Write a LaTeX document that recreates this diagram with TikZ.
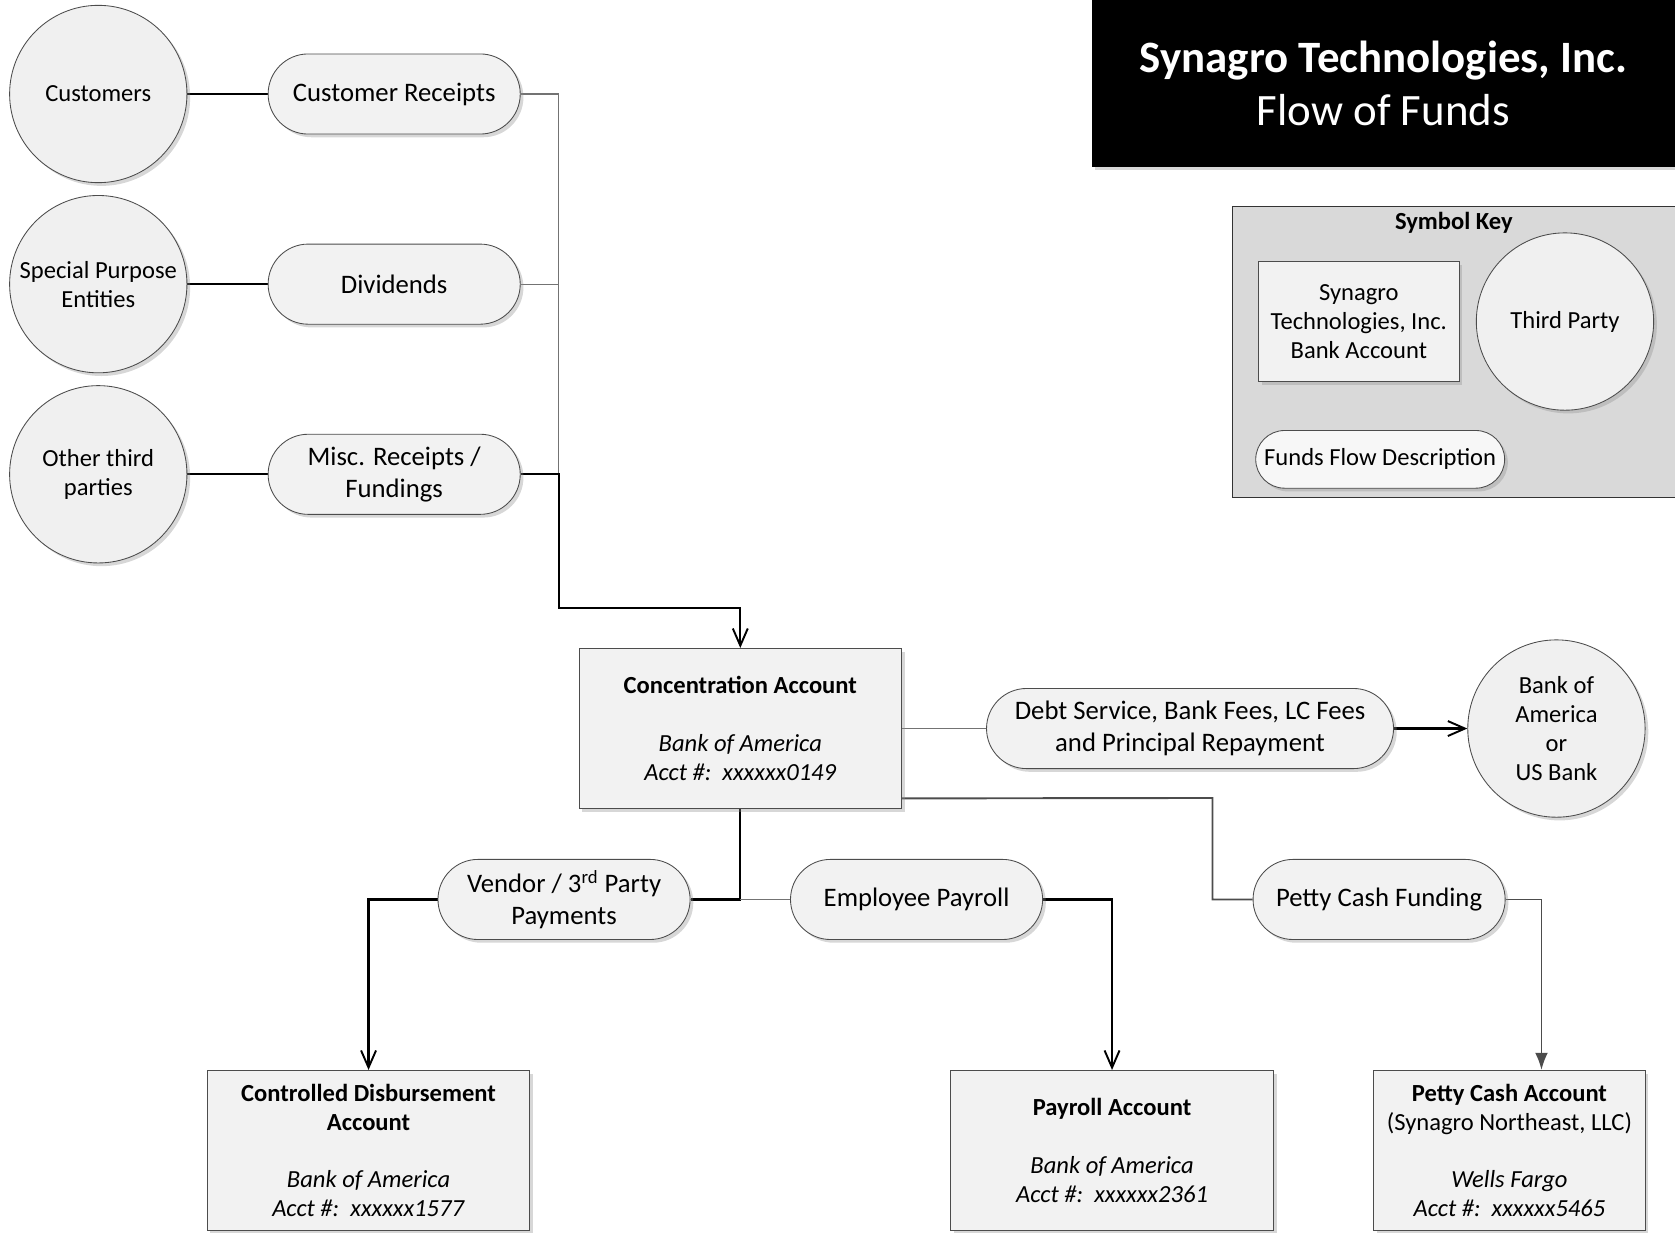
\documentclass[tikz,border=0pt]{standalone}
\usepackage{fontspec}
\setmainfont{Carlito}
\usepackage{tikz}
\usetikzlibrary{arrows.meta,shadows,calc,backgrounds}
\tikzstyle{flow}=[
  x=0.5pt,y=-0.5pt,>={Straight Barb[length=8pt,width=7pt,line width=0.9pt]}
]
\tikzstyle{shade}=[
  drop shadow={shadow xshift=1.5pt,shadow yshift=-1.5pt,fill=black!45,opacity=0.35}
]
\tikzstyle{party}=[
  draw=black!70,circle,fill=black!6,minimum size=83pt,inner sep=0pt,align=center,
  font=\fontsize{11.5}{13.5}\selectfont,shade
]
\tikzstyle{desc}=[
  draw=black!70,rectangle,rounded corners=18.75pt,fill=black!5,minimum width=118pt,
  minimum height=37.5pt,inner sep=2pt,align=center,font=\fontsize{12.5}{15}\selectfont,shade
]
\tikzstyle{acct}=[
  draw=black!70,rectangle,fill=black!5,minimum width=151pt,minimum height=75pt,
  inner sep=2pt,align=center,font=\fontsize{11.5}{13.5}\selectfont,shade
]
\tikzstyle{titlebox}=[
  fill=black,text=white,minimum width=273pt,minimum height=78pt,align=center,
  font=\fontsize{21}{25}\selectfont,shade
]
\tikzstyle{keypanel}=[
  draw=black!80,fill=black!15,minimum width=207pt,minimum height=136.5pt
]
\tikzstyle{heavy}=[
  line width=1.1pt
]
\tikzstyle{light}=[
  line width=0.6pt,black!55
]
\tikzstyle{medium}=[
  line width=0.9pt,black!70
]

\begin{document}
\begin{tikzpicture}[flow]
    \useasboundingbox (0,0) rectangle (1568,1154);

    \node (title) at (1295,78) [titlebox] {\textbf{Synagro Technologies, Inc.}\\Flow of Funds};

    % symbol key
    \node (keybox) at (1361,329.5) [keypanel] {};
    \node (keytitle) at (1361,209) [font=\fontsize{11.5}{13.5}\selectfont\bfseries] {Symbol Key};
    \node (keyacct) at (1272,301) [acct,minimum width=94pt,minimum height=56pt] {Synagro\\Technologies, Inc.\\Bank Account};
    \node (keyparty) at (1465,301) [party] {Third Party};
    \node (keydesc) at (1292,430) [desc,minimum width=116.5pt,minimum height=27pt,rounded corners=13.5pt,
      font=\fontsize{11.5}{13.5}\selectfont,fill=black!3] {Funds Flow Description};

    \node (cust) at (92,88) [party] {Customers};
    \node (spe) at (92,266) [party] {Special Purpose\\Entities};
    \node (other) at (92,444) [party] {Other third\\parties};

    \node (custrec) at (369,88) [desc] {Customer Receipts};
    \node (divid) at (369,266) [desc] {Dividends};
    \node (misc) at (369,444) [desc] {Misc. Receipts /\\Fundings};

    \node (conc) at (693,682) [acct] {\textbf{Concentration Account}\\[13.5pt]\textit{Bank of America}\\\textit{Acct \#:\ \ xxxxxx0149}};

    \node (debt) at (1114,682) [desc,minimum width=190.5pt] {Debt Service, Bank Fees, LC Fees\\and Principal Repayment};
    \node (bank) at (1457,682) [party] {Bank of\\America\\or\\US Bank};

    \node (vendor) at (528,842) [desc] {Vendor / 3\textsuperscript{rd} Party\\Payments};
    \node (emp) at (858,842) [desc] {Employee Payroll};
    \node (pettyf) at (1291,842) [desc] {Petty Cash Funding};

    \node (ctrl) at (345,1077) [acct] {\textbf{Controlled Disbursement}\\\textbf{Account}\\[13.5pt]\textit{Bank of America}\\\textit{Acct \#:\ \ xxxxxx1577}};
    \node (payroll) at (1041,1077) [acct] {\textbf{Payroll Account}\\[13.5pt]\textit{Bank of America}\\\textit{Acct \#:\ \ xxxxxx2361}};
    \node (pettyacc) at (1413,1077) [acct,minimum width=127pt] {\textbf{Petty Cash Account}\\(Synagro Northeast, LLC)\\[13.5pt]\textit{Wells Fargo}\\\textit{Acct \#:\ \ xxxxxx5465}};

    \coordinate (bend) at (523,569);
    \coordinate (pettyout) at ($(conc.south east)+(0,-10)$);
    \coordinate (pettybend) at (1135,747);
    \coordinate (pettyin) at ($(pettyacc.north)+(30,0)$);

    \begin{scope}[on background layer]
      \draw [heavy] (cust) -- (custrec);
      \draw [heavy] (spe) -- (divid);
      \draw [heavy] (other) -- (misc);

      \draw [light] (custrec.east) -| (bend);
      \draw [light] (divid.east) -- (divid.east -| bend);
      \draw [heavy,->] (misc.east) -| (bend) -| (conc.north);

      \draw [light] (conc) -- (debt);
      \draw [heavy,->] (debt) -- (bank);

      \draw [medium] (pettyout) -- (pettybend) |- (pettyf.west);
      \draw [medium,-{Latex[length=8pt,width=6pt]}] (pettyf.east) -| (pettyin);

      \draw [heavy] (conc.south) |- (vendor.east);
      \draw [light] (conc.south |- emp.west) -- (emp.west);
      \draw [heavy,->] (vendor.west) -| (ctrl.north);
      \draw [heavy,->] (emp.east) -| (payroll.north);
    \end{scope}

\end{tikzpicture}
\end{document}
